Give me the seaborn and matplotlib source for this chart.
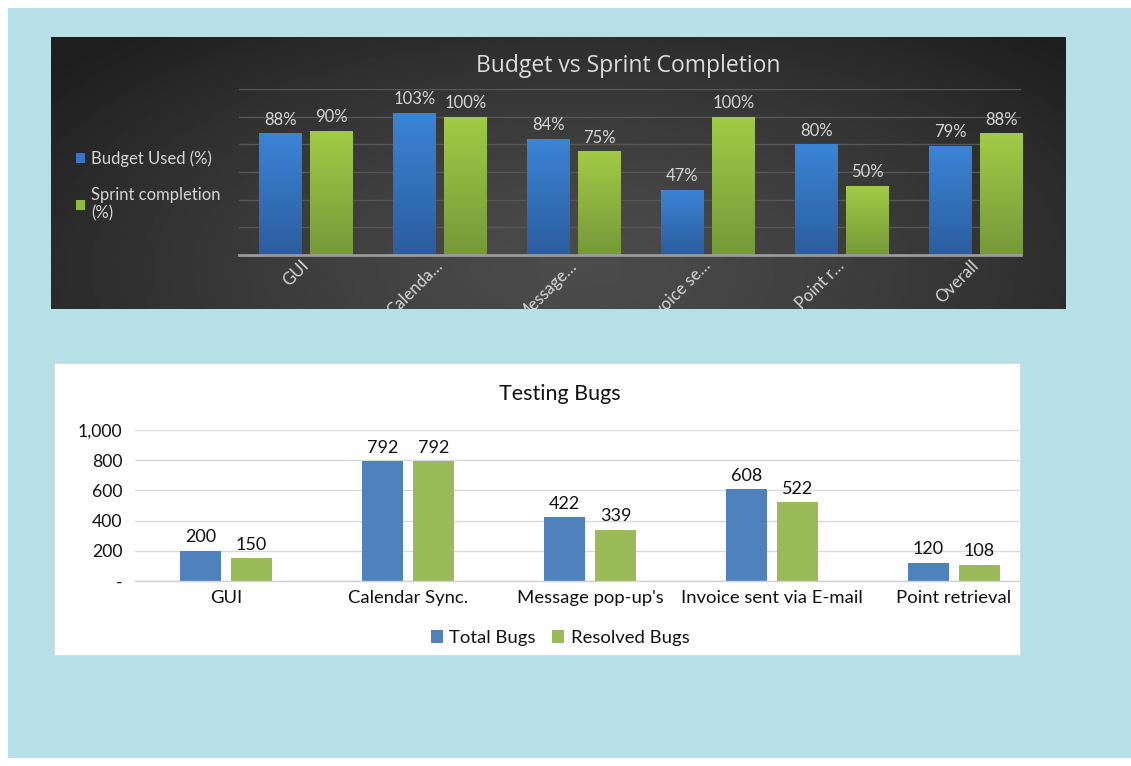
import numpy as np
import pandas as pd
import seaborn as sns
import matplotlib.pyplot as plt
from matplotlib.patches import Rectangle
from matplotlib.colors import LinearSegmentedColormap

# ---------------- data ----------------
sprint_categories = ["GUI", "Calenda…", "Message…", "Invoice se…", "Point r…", "Overall"]
budget_used = [88, 103, 84, 47, 80, 79]
sprint_completion = [90, 100, 75, 100, 50, 88]
sprint_series = ["Budget Used (%)", "Sprint completion\n(%)"]
sprint_yticks = [0, 20, 40, 60, 80, 100, 120]

bug_categories = ["GUI", "Calendar Sync.", "Message pop-up's", "Invoice sent via E-mail", "Point retrieval"]
total_bugs = [200, 792, 422, 608, 120]
resolved_bugs = [150, 792, 339, 522, 108]
bug_series = ["Total Bugs", "Resolved Bugs"]
bug_yticks = [0, 200, 400, 600, 800, 1000]
bug_yticklabels = ["-", "200", "400", "600", "800", "1,000"]

# ---------------- setup ----------------
sns.set_theme(style="white")
plt.rcParams['font.family'] = ['Lato', 'DejaVu Sans']

W, H = 1131, 766
fig = plt.figure(figsize=(W / 100, H / 100), dpi=100)
fig.patch.set_facecolor('white')


def fr(x0, y0, x1, y1):
    return [x0 / W, 1 - y1 / H, (x1 - x0) / W, (y1 - y0) / H]


# background axes in pixel coordinates
bg = fig.add_axes([0, 0, 1, 1], zorder=-5)
bg.set_xlim(0, W)
bg.set_ylim(H, 0)
bg.axis('off')
bg.add_patch(Rectangle((8, 8), W - 8, 750, facecolor='#b7dfe6', edgecolor='none', zorder=0))

# dark panel with radial gradient
yy, xx = np.mgrid[0:1:200j, 0:1:400j]
r = np.sqrt(((xx - 0.52) / 0.62) ** 2 + ((yy - 0.85) / 1.1) ** 2)
shade = np.clip((76 - 42 * np.clip(r, 0, 1.2) ** 1.3) / 255, 0.12, 1)
bg.imshow(shade, extent=[51, 1066, 309, 37], cmap='gray', vmin=0, vmax=1,
          aspect='auto', zorder=1, interpolation='bilinear')
dark_clip = Rectangle((51, 37), 1015, 272, facecolor='none', edgecolor='none')
bg.add_patch(dark_clip)

# white panel
bg.add_patch(Rectangle((54, 363), 966, 292, facecolor='white', edgecolor='#dcdcdc', lw=0.8, zorder=1))


def gradient_bars(ax, colors):
    for container, (cbot, ctop) in zip(ax.containers, colors):
        cmap = LinearSegmentedColormap.from_list('g', [cbot, ctop])
        for bar in container:
            x0 = bar.get_x()
            w = bar.get_width()
            h = bar.get_height()
            grad = np.linspace(0, 1, 64).reshape(-1, 1)
            im = ax.imshow(grad, extent=[x0, x0 + w, 0, h], origin='lower', cmap=cmap,
                           aspect='auto', zorder=bar.get_zorder() + 0.1)
            im.set_clip_path(bar)


# ---------------- top chart ----------------
ax1 = fig.add_axes(fr(239, 89, 1021, 255))
ax1.set_facecolor('none')
df1 = pd.DataFrame({
    'cat': sprint_categories * 2,
    'series': [sprint_series[0]] * len(budget_used) + [sprint_series[1]] * len(sprint_completion),
    'value': budget_used + sprint_completion,
})
sns.barplot(data=df1, x='cat', y='value', hue='series', palette=['#3576c8', '#8dba3e'],
            width=0.761, gap=0.176, ax=ax1, saturation=1, errorbar=None,
            linewidth=0, edgecolor='none')
handles, labels = ax1.get_legend_handles_labels()
ax1.get_legend().remove()
gradient_bars(ax1, [('#2b5e9f', '#3b84d6'), ('#76993a', '#a1cb45')])
for c in ax1.containers:
    ax1.bar_label(c, fmt='%g%%', color='#d6d6d6', fontsize=12, padding=4)
ax1.set_xlim(-0.5, 5.336)
ax1.set_ylim(0, 120)
ax1.set_yticks(sprint_yticks)
ax1.set_yticklabels([])
ax1.yaxis.grid(True, color='#575757', lw=1)
ax1.set_axisbelow(True)
for s in ['top', 'right', 'left']:
    ax1.spines[s].set_visible(False)
ax1.spines['bottom'].set_color('#9a9a9a')
ax1.spines['bottom'].set_linewidth(2)
ax1.set_xlabel('')
ax1.set_ylabel('')
ax1.tick_params(axis='both', length=0)
ax1.tick_params(axis='x', pad=6)
ax1.set_xticks(range(len(sprint_categories)))
ax1.set_xticklabels(sprint_categories, rotation=45, ha='right', va='center',
                    rotation_mode='anchor', color='#d6d6d6', fontsize=12)
for lab in ax1.get_xticklabels():
    lab.set_clip_on(True)
    lab.set_clip_path(dark_clip)

fig.text(628 / W, 1 - 66 / H, "Budget vs Sprint Completion", ha='center', va='center',
         color='#dcdcdc', fontsize=16.5, family=['Open Sans', 'DejaVu Sans'])
leg1 = fig.legend(handles, labels, loc='upper left', bbox_to_anchor=(61 / W, 1 - 135 / H),
                  frameon=False, handlelength=0.55, handleheight=0.55, handletextpad=0.35,
                  labelspacing=1.2, fontsize=12)
for t in leg1.get_texts():
    t.set_color('#d6d6d6')

# ---------------- bottom chart ----------------
ax2 = fig.add_axes(fr(135, 430, 1020, 581))
ax2.set_facecolor('none')
df2 = pd.DataFrame({
    'cat': bug_categories * 2,
    'series': [bug_series[0]] * len(total_bugs) + [bug_series[1]] * len(resolved_bugs),
    'value': total_bugs + resolved_bugs,
})
sns.barplot(data=df2, x='cat', y='value', hue='series', palette=['#4f81bd', '#9bbb59'],
            width=0.56, gap=0.196, ax=ax2, saturation=1, errorbar=None,
            linewidth=0, edgecolor='none')
handles2, labels2 = ax2.get_legend_handles_labels()
ax2.get_legend().remove()
for c in ax2.containers:
    ax2.bar_label(c, fmt='%g', color='#111111', fontsize=13, padding=4)
ax2.set_xlim(-0.5, 4.363)
ax2.set_ylim(0, 1000)
ax2.set_yticks(bug_yticks)
ax2.set_yticklabels(bug_yticklabels, fontsize=12.7, color='#111111')
ax2.yaxis.grid(True, color='#d9d9d9', lw=1)
ax2.set_axisbelow(True)
for s in ['top', 'right', 'left']:
    ax2.spines[s].set_visible(False)
ax2.spines['bottom'].set_color('#d0d0d0')
ax2.spines['bottom'].set_linewidth(1)
ax2.set_xlabel('')
ax2.set_ylabel('')
ax2.tick_params(axis='both', length=0)
ax2.tick_params(axis='y', pad=9)
ax2.tick_params(axis='x', pad=6.5, labelsize=13.3, labelcolor='#111111')

fig.text(560 / W, 1 - 394 / H, "Testing Bugs", ha='center', va='center',
         color='#111111', fontsize=15.5)
leg2 = fig.legend(handles2, labels2, loc='center', bbox_to_anchor=(560 / W, 1 - 638 / H),
                  ncol=2, frameon=False, handlelength=0.65, handleheight=0.65,
                  handletextpad=0.35, columnspacing=0.9, fontsize=13.3)
for t in leg2.get_texts():
    t.set_color('#111111')

fig.savefig('out.png', dpi=100, facecolor=fig.get_facecolor())
